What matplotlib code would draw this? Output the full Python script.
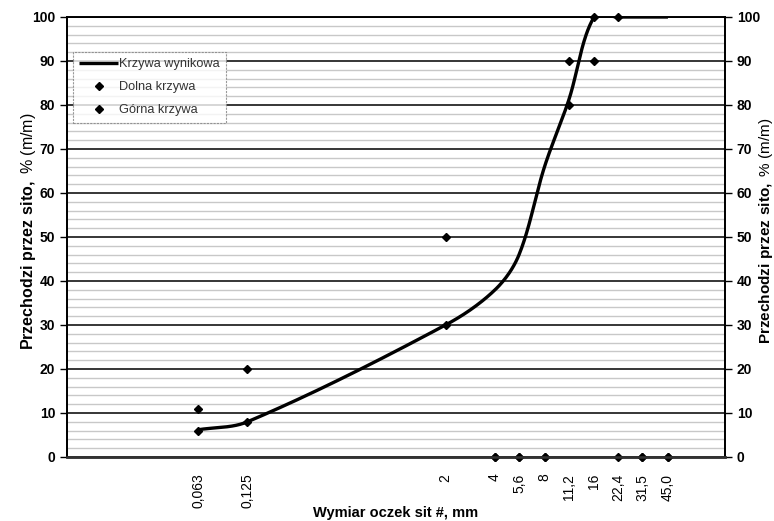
import numpy as np
import matplotlib
matplotlib.use("Agg")
import matplotlib.pyplot as plt
from matplotlib.ticker import FixedLocator, NullLocator, MultipleLocator

# ---- data ----
sieves = [0.063, 0.125, 2, 4, 5.6, 8, 11.2, 16, 22.4, 31.5, 45]
sieve_labels = ["0,063", "0,125", "2", "4", "5,6", "8", "11,2", "16", "22,4", "31,5", "45,0"]
result_curve = [6.2, 8, 30, 38, 46, 66, 81, 100, 100, 100, 100]
lower_curve = [6, 8, 30, 0, 0, 0, 80, 90, 0, 0, 0]
upper_curve = [11, 20, 50, 0, 0, 0, 90, 100, 100, 0, 0]

plt.rcParams['font.family'] = ['Liberation Sans', 'DejaVu Sans']
plt.rcParams['mathtext.fontset'] = 'custom'
plt.rcParams['mathtext.bf'] = 'Liberation Sans:bold'
plt.rcParams['mathtext.rm'] = 'Liberation Sans'

fig = plt.figure(figsize=(7.74, 5.21), dpi=100)
ax = fig.add_axes([67/774, 1-457/521, (725-67)/774, (457-17)/521])

ax.set_xscale('log')
ax.set_xlim(0.01, 100)
ax.set_ylim(0, 100)

# grid
ax.yaxis.set_major_locator(MultipleLocator(10))
ax.yaxis.set_minor_locator(MultipleLocator(2))
ax.grid(which='minor', axis='y', color='#c8c8c8', linewidth=1.0, zorder=0)
ax.grid(which='major', axis='y', color='black', linewidth=1.1, zorder=0.5)
ax.set_axisbelow(True)

# smoothed curve (length-scaled cardinal spline in scaled log-x / y space)
lx = np.log10(np.array(sieves, dtype=float))
k = 37.4  # aspect factor: x-decade vs y-unit
P = np.column_stack([lx * k, np.array(result_curve, dtype=float)])
n = len(P)
tang = np.zeros_like(P)
for i in range(n):
    a = P[max(i-1, 0)]
    b = P[min(i+1, n-1)]
    d1 = np.linalg.norm(P[i] - a)
    d2 = np.linalg.norm(b - P[i])
    tang[i] = (b - a) / (d1 + d2) if (d1 + d2) > 0 else 0
xs, ys = [], []
t = np.linspace(0, 1, 50)
for i in range(n - 1):
    p1, p2 = P[i], P[i+1]
    d = np.linalg.norm(p2 - p1)
    c1 = p1 + tang[i] * d / 3.0
    c2 = p2 - tang[i+1] * d / 3.0
    bz = ((1-t)**3)[:, None]*p1 + (3*(1-t)**2*t)[:, None]*c1 + (3*(1-t)*t**2)[:, None]*c2 + (t**3)[:, None]*p2
    xs.append(bz[:, 0]); ys.append(bz[:, 1])
xs = np.concatenate(xs); ys = np.concatenate(ys)
ax.plot(10**(xs / k), ys, color='black', linewidth=2.4, solid_capstyle='butt',
        label='Krzywa wynikowa', zorder=3)

ax.plot(sieves, lower_curve, linestyle='none', marker='D', markersize=4.5,
        color='black', label='Dolna krzywa', zorder=4, clip_on=False)
ax.plot(sieves, upper_curve, linestyle='none', marker='D', markersize=4.5,
        color='black', label='Górna krzywa', zorder=4, clip_on=False)

# x ticks
ax.xaxis.set_major_locator(FixedLocator(sieves))
ax.xaxis.set_minor_locator(NullLocator())
ax.set_xticklabels(sieve_labels, rotation=90, fontsize=10)
ax.tick_params(axis='x', length=0, pad=12)

# y ticks
ax.tick_params(axis='y', which='major', direction='out', length=5, width=1, labelsize=10)
ax.tick_params(axis='y', which='minor', length=0)
for lab in ax.get_yticklabels():
    lab.set_fontweight('bold')

ax2 = ax.twinx()
ax2.set_ylim(0, 100)
ax2.yaxis.set_major_locator(MultipleLocator(10))
ax2.tick_params(axis='y', which='major', direction='out', length=5, width=1, labelsize=10)
for lab in ax2.get_yticklabels():
    lab.set_fontweight('bold')

for a in (ax, ax2):
    a.spines['left'].set_linewidth(1.3)
    a.spines['right'].set_linewidth(1.3)
    a.spines['bottom'].set_linewidth(1.8)
    a.spines['bottom'].set_color('#333333')
    a.spines['top'].set_linewidth(1.2)

ylab = r'$\mathbf{Przechodzi\ przez\ sito,}$ % (m/m)'
ycen = (457-231)/440
ax.set_ylabel(ylab, fontsize=11.5)
ax.yaxis.set_label_coords((38-67)/658, ycen)
ax2.set_ylabel(ylab, fontsize=11, rotation=90)
ax2.yaxis.set_label_coords((757-67)/658, ycen)
ax.set_xlabel('Wymiar oczek sit #, mm', fontsize=10.5, fontweight='bold')
ax.xaxis.set_label_coords(0.5, -(506-457)/440)

leg = ax.legend(loc='upper left', bbox_to_anchor=(73/774, 1-52/521),
                bbox_transform=fig.transFigure, fontsize=9.2, frameon=True,
                fancybox=False, handlelength=3.0, handletextpad=0.1,
                borderpad=0.5, labelspacing=0.85, borderaxespad=0)
leg.get_frame().set_edgecolor('#808080')
leg.get_frame().set_linestyle((0, (2, 1)))
leg.get_frame().set_linewidth(0.8)
for txt in leg.get_texts():
    txt.set_color('#333333')

fig.savefig('out.png', dpi=100)
